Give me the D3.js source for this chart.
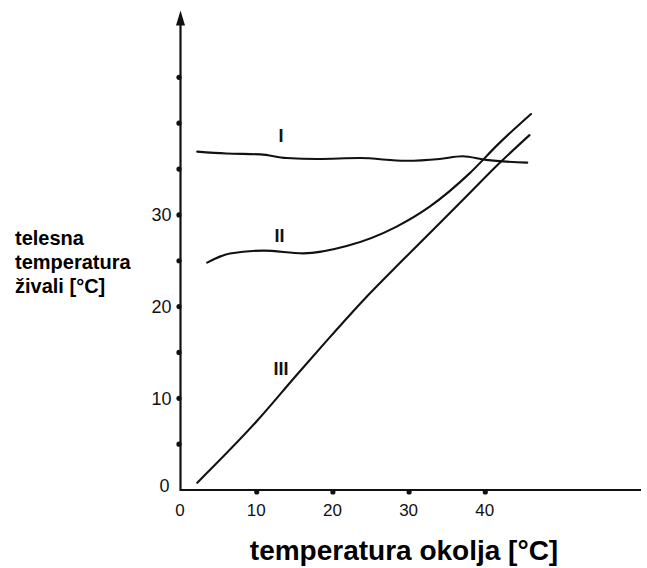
<!DOCTYPE html>
<html>
<head>
<meta charset="utf-8">
<script src="https://cdn.jsdelivr.net/npm/d3@7"></script>
<style>
  html, body { margin: 0; padding: 0; background: #fff; }
  svg { display: block; }
</style>
</head>
<body>
<svg id="chart" width="647" height="568"></svg>
<script>
// ---- data ----
const xTicks = [0, 10, 20, 30, 40];
const yTickLabels = [0, 10, 20, 30];
const yTickMarks = [5, 10, 15, 20, 25, 30, 35, 40, 45];
const curveI = [[2.2,36.9],[6,36.7],[10.5,36.6],[13.9,36.2],[18,36.1],[23.5,36.2],[29.6,35.9],[34,36.1],[37,36.4],[40.1,36.0],[45.5,35.7]];
const curveII = [[3.5,24.8],[6.5,25.8],[10.9,26.1],[16.1,25.8],[21.8,26.6],[28.3,28.7],[32.7,30.9],[37.9,34.5],[41.8,37.8],[46.0,41.0]];
const curveIII = [[2.2,0.8],[10,7.5],[15.3,12.6],[19,16.1],[24.0,20.7],[29.2,25.1],[37.5,32.0],[41.8,35.6],[45.8,38.7]];
const seriesNames = ["I", "II", "III"];
const seriesLabelAt = [[13.2, 38.0], [13.0, 27.0], [13.2, 12.5]];
const xTitle = "temperatura okolja [°C]";
const yTitle = ["telesna", "temperatura", "živali [°C]"];

(function () {
// ---- layout ----
const svg = d3.select("#chart");
const x0 = 180.5, y0 = 490;
const x = d3.scaleLinear().domain([0, 60]).range([x0, x0 + 60 * 7.62]);
const y = d3.scaleLinear().domain([0, 52.3]).range([y0, y0 - 52.3 * 9.17]);
const ink = "#111";

// axes lines
svg.append("line").attr("x1", x(0)).attr("x2", 641).attr("y1", y0).attr("y2", y0)
  .attr("stroke", ink).attr("stroke-width", 2.2);
svg.append("line").attr("x1", x0).attr("x2", x0).attr("y1", y0 + 1).attr("y2", y(52.3) + 8)
  .attr("stroke", ink).attr("stroke-width", 2.2);
// arrow head
const yTop = y(52.3);
svg.append("path")
  .attr("d", `M${x0},${yTop} L${x0 - 4.5},${yTop + 15} L${x0 + 4.5},${yTop + 15} Z`)
  .attr("fill", ink);

// d3 axes for labels (no lines)
const xAxis = d3.axisBottom(x).tickValues(xTicks).tickSize(0).tickPadding(14);
const gx = svg.append("g").attr("transform", `translate(0,${y0})`).call(xAxis);
gx.select(".domain").remove();
gx.selectAll("text").attr("font-family", "Liberation Sans, Arial, sans-serif")
  .attr("font-size", 17).attr("fill", ink).attr("dx", -1);

const yAxis = d3.axisLeft(y).tickValues(yTickLabels).tickSize(0).tickPadding(9);
const gy = svg.append("g").attr("transform", `translate(${x0},0)`).call(yAxis);
gy.select(".domain").remove();
gy.selectAll("text").attr("font-family", "Liberation Sans, Arial, sans-serif")
  .attr("font-size", 18).attr("fill", ink);
gy.selectAll(".tick").filter(d => d === 0).select("text").attr("dy", "0.1em").attr("dx", -2);

// tick bumps
svg.append("g").selectAll("circle").data(xTicks.filter(d => d > 0)).join("circle")
  .attr("cx", d => x(d)).attr("cy", y0 + 2).attr("r", 2.6).attr("fill", ink);
svg.append("g").selectAll("circle").data(yTickMarks).join("circle")
  .attr("cx", x0 - 1.5).attr("cy", d => y(d)).attr("r", 2.6).attr("fill", ink);

// curves
const line = d3.line().x(d => x(d[0])).y(d => y(d[1])).curve(d3.curveMonotoneX);
[curveI, curveII, curveIII].forEach(c => {
  svg.append("path").datum(c).attr("d", line)
    .attr("fill", "none").attr("stroke", ink).attr("stroke-width", 2.1)
    .attr("stroke-linecap", "round");
});

// series labels
svg.append("g").selectAll("text").data(seriesNames).join("text")
  .attr("x", (d, i) => x(seriesLabelAt[i][0]))
  .attr("y", (d, i) => y(seriesLabelAt[i][1]))
  .attr("text-anchor", "middle")
  .attr("font-family", "Liberation Sans, Arial, sans-serif")
  .attr("font-size", 18).attr("font-weight", "bold").attr("fill", ink)
  .text(d => d);

// titles
svg.append("text").attr("x", 404).attr("y", 560).attr("text-anchor", "middle")
  .attr("font-family", "Liberation Sans, Arial, sans-serif").attr("font-weight", "bold")
  .attr("font-size", 28).attr("fill", "#000").text(xTitle);

svg.append("g").selectAll("text").data(yTitle).join("text")
  .attr("x", 15).attr("y", (d, i) => 245 + i * 24)
  .attr("font-family", "Liberation Sans, Arial, sans-serif").attr("font-weight", "bold")
  .attr("font-size", 20).attr("fill", "#000").text(d => d);
})();
</script>
</body>
</html>
